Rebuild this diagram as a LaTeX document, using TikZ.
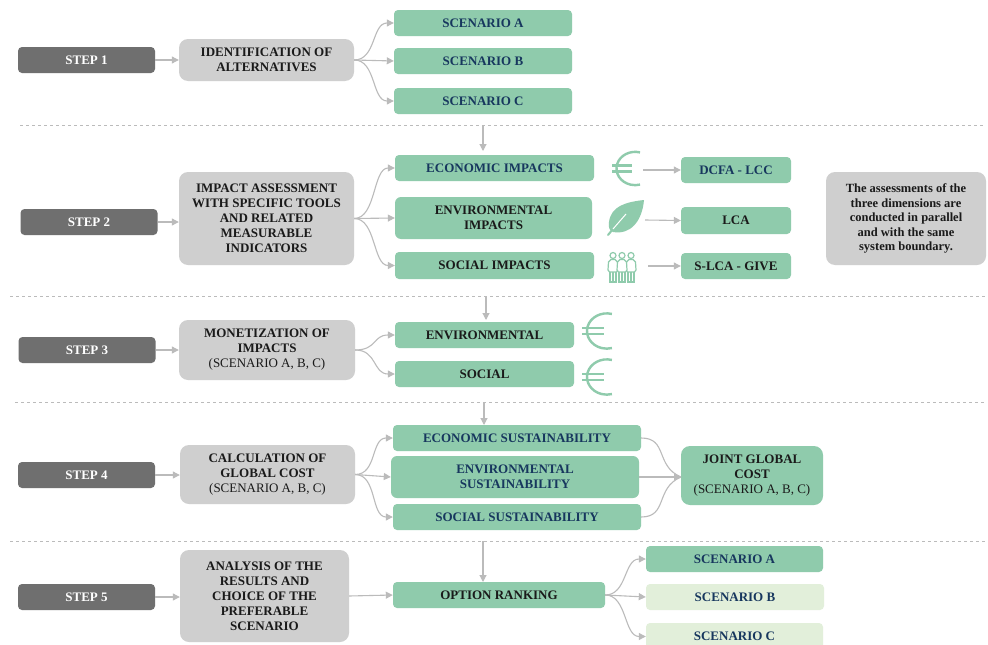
\documentclass[tikz,border=0pt]{standalone}
\usepackage{fontspec}
\setmainfont{Liberation Serif}
\usetikzlibrary{arrows.meta, calc}
\definecolor{stepgrey}{HTML}{6F6F6F}
\definecolor{boxgrey}{HTML}{CFCFCF}
\definecolor{boxgreen}{HTML}{8FCBAC}
\definecolor{palegreen}{HTML}{E2EFDA}
\definecolor{linegrey}{HTML}{BBBBBB}
\definecolor{navytext}{HTML}{17375E}
\definecolor{blacktext}{HTML}{1A1A1A}
\tikzset{
  label font/.style={font=\fontsize{13}{15}\selectfont\bfseries, align=center, inner sep=0pt},
  stepbox/.style={label font, fill=stepgrey, text=white, rounded corners=4pt, minimum width=137pt, minimum height=26pt},
  greybox/.style={label font, fill=boxgrey, text=blacktext, rounded corners=9pt},
  greenbox/.style={label font, fill=boxgreen, text=blacktext, rounded corners=4pt},
  bluebox/.style={greenbox, text=navytext},
  palebox/.style={bluebox, fill=palegreen},
  arrow/.style={-{Triangle[length=7pt,width=7pt]}, linegrey, line width=1.1pt},
  sepline/.style={linegrey, dashed, line width=0.9pt},
  euroline/.style={boxgreen, line width=2.4pt},
}
\newcommand{\euroicon}[3]{% x, y, size
  \draw[euroline] ({#1+0.442*#3},{#2-0.473*#3}) arc[start angle=-75, end angle=-285, x radius=0.55*#3, y radius=0.49*#3];
  \draw[euroline] ({#1-0.38*#3},{#2-0.09*#3}) -- ({#1+0.22*#3},{#2-0.09*#3});
  \draw[euroline] ({#1-0.38*#3},{#2+0.09*#3}) -- ({#1+0.22*#3},{#2+0.09*#3});
}
\newcommand{\personicon}[2]{% x, y
  \draw[boxgreen, line width=1.2pt, fill=white] (#1,#2-11.5) circle[radius=3pt];
  \draw[boxgreen, line width=1.2pt, fill=white] (#1-5,#2+3) -- (#1-4.5,#2-5) -- (#1-2,#2-7.5) -- (#1+2,#2-7.5) -- (#1+4.5,#2-5) -- (#1+5,#2+3) -- (#1+3.5,#2+5) -- (#1-3.5,#2+5) -- cycle;
  \draw[boxgreen, line width=1.2pt] (#1-3,#2+5) -- (#1-3,#2+15) -- (#1+3,#2+15) -- (#1+3,#2+5) (#1,#2+5) -- (#1,#2+15);
}
\begin{document}
\begin{tikzpicture}[x=1pt, y=-1pt]
  \useasboundingbox (0,0) rectangle (988,645);
  \fill[white] (0,0) rectangle (988,645);

  % separators
  \draw[sepline] (20,125) -- (985,125);
  \draw[sepline] (10,296) -- (985,296);
  \draw[sepline] (15,402) -- (985,402);
  \draw[sepline] (10,541) -- (985,541);

  % steps
  \node[stepbox] (step1) at (86.5,60) {STEP 1};
  \node[stepbox] (step2) at (89,222) {STEP 2};
  \node[stepbox] (step3) at (87,350) {STEP 3};
  \node[stepbox] (step4) at (86.5,475) {STEP 4};
  \node[stepbox] (step5) at (86.5,597) {STEP 5};

  % grey boxes
  \node[greybox, minimum width=175pt, minimum height=42pt] (alternatives) at (266.5,60) {IDENTIFICATION OF\\ALTERNATIVES};
  \node[greybox, minimum width=175pt, minimum height=93pt] (assessment) at (266.5,218.5) {IMPACT ASSESSMENT\\WITH SPECIFIC TOOLS\\AND RELATED\\MEASURABLE\\INDICATORS};
  \node[greybox, minimum width=176pt, minimum height=60pt] (monetization) at (267,350) {MONETIZATION OF\\IMPACTS\\{\mdseries (SCENARIO A, B, C)}};
  \node[greybox, minimum width=175pt, minimum height=59pt] (calculation) at (267.5,474.5) {CALCULATION OF\\GLOBAL COST\\{\mdseries (SCENARIO A, B, C)}};
  \node[greybox, minimum width=169pt, minimum height=92pt] (analysis) at (264.5,596) {ANALYSIS OF THE\\RESULTS AND\\CHOICE OF THE\\PREFERABLE\\SCENARIO};
  \node[greybox, minimum width=160pt, minimum height=93pt, font=\fontsize{12.5}{14.5}\selectfont\bfseries] (note) at (906,218.5) {The assessments of the\\three dimensions are\\conducted in parallel\\and with the same\\system boundary.};

  % step 1
  \node[bluebox, minimum width=178pt, minimum height=26pt] (scenA) at (483,23) {SCENARIO A};
  \node[bluebox, minimum width=178pt, minimum height=26pt] (scenB) at (483,61) {SCENARIO B};
  \node[bluebox, minimum width=178pt, minimum height=26pt] (scenC) at (483,101) {SCENARIO C};

  % step 2
  \node[bluebox, minimum width=199pt, minimum height=26pt] (economic) at (494.5,168) {ECONOMIC IMPACTS};
  \node[greenbox, minimum width=197pt, minimum height=42pt, rounded corners=6pt] (environmental) at (493.5,218) {ENVIRONMENTAL\\IMPACTS};
  \node[greenbox, minimum width=199pt, minimum height=27pt] (social) at (494.5,265.5) {SOCIAL IMPACTS};
  \node[bluebox, minimum width=110pt, minimum height=26pt] (dcfa) at (736,170) {DCFA - LCC};
  \node[greenbox, minimum width=110pt, minimum height=27pt] (lca) at (736,220.5) {LCA};
  \node[greenbox, minimum width=110pt, minimum height=26pt] (slca) at (736,266) {S-LCA - GIVE};

  % step 3
  \node[greenbox, minimum width=179pt, minimum height=26pt] (envmoney) at (484.5,335) {ENVIRONMENTAL};
  \node[greenbox, minimum width=179pt, minimum height=26pt] (socmoney) at (484.5,374) {SOCIAL};

  % step 4
  \node[bluebox, minimum width=248pt, minimum height=26pt] (ecosust) at (517,438) {ECONOMIC SUSTAINABILITY};
  \node[bluebox, minimum width=248pt, minimum height=42pt, rounded corners=6pt] (envsust) at (515,477) {ENVIRONMENTAL\\SUSTAINABILITY};
  \node[bluebox, minimum width=248pt, minimum height=26pt] (socsust) at (517,517) {SOCIAL SUSTAINABILITY};
  \node[greenbox, minimum width=142pt, minimum height=59pt, rounded corners=9pt] (joint) at (752,475.5) {JOINT GLOBAL\\COST\\{\mdseries (SCENARIO A, B, C)}};

  % step 5
  \node[greenbox, minimum width=212pt, minimum height=26pt] (ranking) at (499,595) {OPTION RANKING};
  \node[bluebox, minimum width=177pt, minimum height=26pt] (rankA) at (734.5,559) {SCENARIO A};
  \node[palebox, minimum width=178pt, minimum height=26pt] (rankB) at (735,597) {SCENARIO B};
  \node[palebox, minimum width=177pt, minimum height=27pt] (rankC) at (734.5,636.5) {SCENARIO C};

  % icons
  \euroicon{625}{168.5}{34}
  \euroicon{596}{331}{36}
  \euroicon{596}{377}{36}
  \fill[boxgreen] (644,200) .. controls (626,202) and (611,206) .. (609,222) .. controls (608,228) and (610,231) .. (613,232) .. controls (630,235) and (642,222) .. (644,200) -- cycle;
  \draw[boxgreen, line width=2pt, line cap=round] (608,235) -- (613,229);
  \draw[white, line width=1pt] (613,229) -- (626,214);
  \personicon{613}{267}
  \personicon{631}{267}
  \personicon{622}{267}

  \coordinate (euroout) at (643,170);
  \coordinate (leafout) at (645,220);
  \coordinate (peopleout) at (648,266);

  % free ends of the arrows coming down from the separators
  \coordinate (sep1) at (483,125);
  \coordinate (sep2) at (486,296);
  \coordinate (sep3) at (484,402);
  \coordinate (sep4) at (483,541);
  \coordinate (econtop) at (483,151);
  \coordinate (envtop) at (486,320);
  \coordinate (sustop) at (484,425);
  \coordinate (ranktop) at (483,582);
  \coordinate (jointin) at (681,477);

  % arrows
  \foreach \from/\to in {step1/alternatives, step2/assessment, step3/monetization, step4/calculation, step5/analysis}
    \draw[arrow] (\from) -- (\from -| \to.west);
  \foreach \from/\to in {sep1/econtop, sep2/envtop, sep3/sustop, sep4/ranktop}
    \draw[arrow] (\from) -- (\to);
  \foreach \from/\to in {alternatives/scenA, alternatives/scenC, assessment/economic, assessment/social, monetization/envmoney, monetization/socmoney, calculation/ecosust, calculation/socsust, ranking/rankA, ranking/rankC}
    \draw[arrow] (\from.east) .. controls +(22,0) and ($(\to.west)+(-22,0)$) .. (\to.west);
  \foreach \from/\to in {alternatives/scenB, assessment/environmental, calculation/envsust, ranking/rankB}
    \draw[arrow] (\from.east) -- (\to.west);
  \draw[arrow] (euroout) -- (dcfa.west);
  \draw[arrow] (leafout) -- (lca.west);
  \draw[arrow] (peopleout) -- (slca.west);
  \draw[arrow] (analysis.east) -- (ranking.west);
  \draw[linegrey, line width=1.1pt] (ecosust.east) .. controls (668,438) and (655,466) .. (jointin);
  \draw[linegrey, line width=1.1pt] (socsust.east) .. controls (668,517) and (655,488) .. (jointin);
  \draw[arrow] (envsust.east) -- (jointin);
\end{tikzpicture}
\end{document}
